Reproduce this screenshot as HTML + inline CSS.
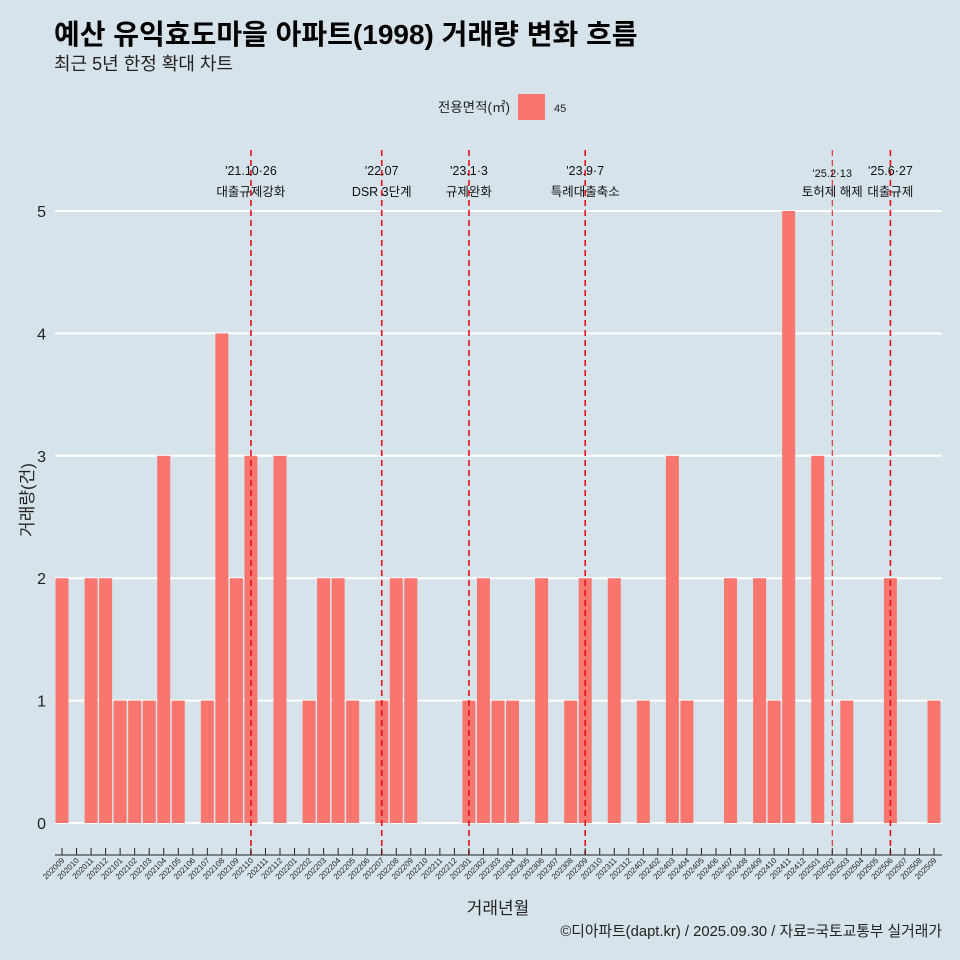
<!DOCTYPE html>
<html><head><meta charset="utf-8"><style>
html,body{margin:0;padding:0;overflow:hidden;width:960px;height:960px;background:#d6e3ea;font-family:"Liberation Sans","Noto Sans CJK KR",sans-serif;}
svg{display:block;}
svg text{font-family:"Liberation Sans","Noto Sans CJK KR",sans-serif;}
</style></head><body>
<svg id="c" width="960" height="960" xmlns="http://www.w3.org/2000/svg">
<rect width="960" height="960" fill="#d6e3ea"/>
<text x="54" y="44" font-size="28" font-weight="bold" fill="#000">예산 유익효도마을 아파트(1998) 거래량 변화 흐름</text>
<text x="54" y="70" font-size="18" fill="#222">최근 5년 한정 확대 차트</text>
<g>
<text x="510" y="112" font-size="13.5" text-anchor="end" fill="#222">전용면적(㎡)</text>
<rect x="518" y="94" width="27" height="26" fill="#f8766d"/>
<text x="554" y="112" font-size="11" fill="#222">45</text>
</g>
<g id="grid"></g><g id="bars"></g><g id="events"></g><g id="axes"></g>
<text x="498" y="914" font-size="17" text-anchor="middle" fill="#222">거래년월</text>
<text transform="translate(33,500) rotate(-90)" font-size="17" text-anchor="middle" fill="#222">거래량(건)</text>
<text x="942" y="936" font-size="14.8" text-anchor="end" fill="#222">©디아파트(dapt.kr) / 2025.09.30 / 자료=국토교통부 실거래가</text>
</svg>
<script>
const categories=["202009","202010","202011","202012","202101","202102","202103","202104","202105","202106","202107","202108","202109","202110","202111","202112","202201","202202","202203","202204","202205","202206","202207","202208","202209","202210","202211","202212","202301","202302","202303","202304","202305","202306","202307","202308","202309","202310","202311","202312","202401","202402","202403","202404","202405","202406","202407","202408","202409","202410","202411","202412","202501","202502","202503","202504","202505","202506","202507","202508","202509"];
const counts=[2,0,2,2,1,1,1,3,1,0,1,4,2,3,0,3,0,1,2,2,1,0,1,2,2,0,0,0,1,2,1,1,0,2,0,1,2,0,2,0,1,0,3,1,0,0,2,0,2,1,5,0,3,0,1,0,0,2,0,0,1];
const yTicks=[0,1,2,3,4,5];
const eventMonths=["202110","202207","202301","202309","202502","202506"];
const eventDates=["'21.10·26","'22.07","'23.1·3","'23.9·7","'25.2·13","'25.6·27"];
const eventLabels=["대출규제강화","DSR 3단계","규제완화","특례대출축소","토허제 해제","대출규제"];
const NS="http://www.w3.org/2000/svg";
const x0=62,step=(934-62)/60,y0=823,yU=(823-211)/5,bw=13;
const X=c=>x0+step*categories.indexOf(c);
const Y=v=>y0-v*yU;
function mk(t,a,p){const e=document.createElementNS(NS,t);for(const k in a)e.setAttribute(k,a[k]);p.appendChild(e);return e;}
const grid=document.getElementById('grid'),bars=document.getElementById('bars'),ev=document.getElementById('events'),ax=document.getElementById('axes');
yTicks.forEach(v=>{
 const l=mk('line',{x1:55,x2:942,y1:Y(v),y2:Y(v),stroke:'#fff','stroke-width':2},grid);
 
 
 const t=mk('text',{x:46,y:Y(v)+6,'font-size':16,'text-anchor':'end',fill:'#222'},ax);
 t.textContent=v;
 
 
});
categories.forEach((c,i)=>{
 const v=counts[i];
 if(v>0){const r=mk('rect',{x:X(c)-bw/2,y:Y(v),width:bw,height:Y(0)-Y(v),fill:'#f8766d'},bars);
 
 }
 const tk=mk('line',{x1:X(c),x2:X(c),y1:848,y2:855,stroke:'#222','stroke-width':1},ax);
 
 
 const t=mk('text',{transform:`translate(${X(c)+3},${861}) rotate(-45)`,'font-size':8,'text-anchor':'end',fill:'#222'},ax);
 t.textContent=c;
 
 
});
const al=mk('line',{x1:55,x2:942,y1:855,y2:855,stroke:'#222','stroke-width':1},ax);


eventMonths.forEach((m,i)=>{
 const thin=m==="202502";
 const l=mk('line',{x1:X(m),x2:X(m),y1:150,y2:855,stroke:'#e8101a','stroke-width':thin?1:1.6,'stroke-dasharray':'6,4'},ev);
 
 
 const t1=mk('text',{x:X(m),y:thin?177:175,'font-size':thin?11:12.5,'text-anchor':'middle',fill:'#111'},ev);
 t1.textContent=eventDates[i];
 
 
 const t2=mk('text',{x:X(m),y:196,'font-size':12.5,'text-anchor':'middle',fill:'#111'},ev);
 t2.textContent=eventLabels[i];
 
 
});
</script>
</body></html>
